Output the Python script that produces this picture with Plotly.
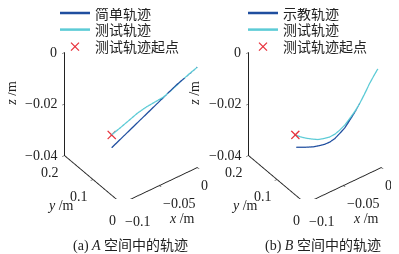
import math
import plotly.graph_objects as go

# ---------------- data ----------------
# Panel (a): A space
a_simple_x = [-0.068, -0.051, -0.034, -0.017, 0.0]
a_simple_y = [0.120, 0.090, 0.060, 0.030, 0.0]
a_simple_z = [-0.0340, -0.0255, -0.0170, -0.0085, -0.0010]

a_test_x = [-0.068, -0.0612, -0.0544, -0.0476, -0.0408, -0.0340, -0.0272, -0.0204, -0.0136, -0.0068, 0.0]
a_test_y = [0.120, 0.108, 0.096, 0.084, 0.072, 0.060, 0.048, 0.036, 0.024, 0.012, 0.0]
a_test_z = [-0.0290, -0.0261, -0.0231, -0.0201, -0.0176, -0.0155, -0.0134, -0.0104, -0.0071, -0.0039, -0.0010]

# Panel (b): B space
b_teach_x = [-0.0675, -0.0600, -0.0540, -0.0491, -0.0450, -0.0412, -0.0370, -0.0333, -0.0290, -0.0253, -0.0212, -0.0174, -0.0134, -0.0095, -0.0060, -0.0029]
b_teach_y = [0.1192, 0.1059, 0.0953, 0.0866, 0.0794, 0.0727, 0.0653, 0.0587, 0.0512, 0.0447, 0.0374, 0.0307, 0.0237, 0.0168, 0.0106, 0.0052]
b_teach_z = [-0.0338, -0.0336, -0.0333, -0.0327, -0.0321, -0.0312, -0.0297, -0.0277, -0.0253, -0.0224, -0.0191, -0.0157, -0.0118, -0.0077, -0.0045, -0.0018]

b_test_x = [-0.0683, -0.0640, -0.0596, -0.0550, -0.0504, -0.0458, -0.0412, -0.0370, -0.0333, -0.0290, -0.0253, -0.0212, -0.0174, -0.0134, -0.0095, -0.0060, -0.0029]
b_test_y = [0.1206, 0.1130, 0.1052, 0.0971, 0.0890, 0.0809, 0.0727, 0.0653, 0.0587, 0.0512, 0.0447, 0.0374, 0.0307, 0.0237, 0.0168, 0.0106, 0.0052]
b_test_z = [-0.0290, -0.0297, -0.0301, -0.0303, -0.0304, -0.0299, -0.0292, -0.0280, -0.0264, -0.0242, -0.0217, -0.0188, -0.0157, -0.0118, -0.0077, -0.0045, -0.0018]

x_ticks = [-0.1, -0.05, 0]
x_tick_text = ["\u22120.1", "\u22120.05", "0"]
y_ticks = [0, 0.1, 0.2]
y_tick_text = ["0", "0.1", "0.2"]
z_ticks = [-0.04, -0.02, 0]
z_tick_text = ["\u22120.04", "\u22120.02", "0"]

names_a = ["简单轨迹", "测试轨迹", "测试轨迹起点"]
names_b = ["示教轨迹", "测试轨迹", "测试轨迹起点"]
captions = ["(a) <i>A</i> 空间中的轨迹", "(b) <i>B</i> 空间中的轨迹"]

BLUE = "#1f4e9f"
CYAN = "#5ccbd6"
RED = "#e8323c"
FONT = "Liberation Serif, Noto Sans CJK SC"

# camera (orthographic, MATLAB-like view)
AZ = math.radians(53.1)
EL = math.radians(39.2)
R = 1.89
EYE = dict(x=-math.cos(EL) * math.cos(AZ) * R, y=-math.cos(EL) * math.sin(AZ) * R, z=math.sin(EL) * R)

fig = go.Figure()

panels = [
    ("scene", ["legend", "legend2", "legend3"], names_a,
     (a_simple_x, a_simple_y, a_simple_z), (a_test_x, a_test_y, a_test_z)),
    ("scene2", ["legend4", "legend5", "legend6"], names_b,
     (b_teach_x, b_teach_y, b_teach_z), (b_test_x, b_test_y, b_test_z)),
]

for scene, legs, names, ref, test in panels:
    fig.add_trace(go.Scatter3d(x=ref[0], y=ref[1], z=ref[2], mode="lines",
                               line=dict(color=BLUE, width=2.5), name=names[0],
                               scene=scene, legend=legs[0]))
    fig.add_trace(go.Scatter3d(x=test[0], y=test[1], z=test[2], mode="lines",
                               line=dict(color=CYAN, width=2.5), name=names[1],
                               scene=scene, legend=legs[1]))
    fig.add_trace(go.Scatter3d(x=[test[0][0]], y=[test[1][0]], z=[test[2][0]], mode="text",
                               text=["\u00d7"], textfont=dict(color=RED, size=16, family="DejaVu Sans"),
                               textposition="middle center", showlegend=False, scene=scene))
    # legend entry for the start marker
    fig.add_trace(go.Scatter(x=[None], y=[None], mode="markers", name=names[2],
                             marker=dict(symbol="x-thin-open", size=8, color=RED,
                                         line=dict(color=RED, width=1.3)),
                             legend=legs[2]))


def axis(rng, tv):
    return dict(range=rng, tickvals=tv, ticktext=[""] * len(tv), showgrid=False,
                showbackground=False, showline=True, linecolor="#222", linewidth=2,
                ticks="outside", ticklen=3, tickcolor="#222", tickwidth=1, zeroline=False,
                showspikes=False, title=dict(text=""), autorange=False)


def scene_annotations():
    ann = []
    tf = dict(family=FONT, size=14, color="#222")
    for v, t in zip(z_ticks, z_tick_text):
        ann.append(dict(x=-0.1, y=0.2, z=v, text=t, showarrow=False, xanchor="right",
                        yanchor="middle", xshift=-5, font=tf))
    for v, t in zip(y_ticks, y_tick_text):
        ann.append(dict(x=-0.1, y=v, z=-0.04, text=t, showarrow=False, xanchor="right",
                        yanchor="top", xshift=-3, yshift=-8, font=tf))
    for v, t in zip(x_ticks, x_tick_text):
        ann.append(dict(x=v, y=0, z=-0.04, text=t, showarrow=False, xanchor="left",
                        yanchor="top", xshift=2, yshift=-9, font=tf))
    ann.append(dict(x=-0.1, y=0.2, z=-0.02, text="<i>z</i> /m", showarrow=False,
                    textangle=-90, xshift=-53, yshift=10, font=tf))
    ann.append(dict(x=-0.1, y=0.1, z=-0.04, text="<i>y</i> /m", showarrow=False,
                    xshift=-32, yshift=-26, font=tf))
    ann.append(dict(x=-0.05, y=0, z=-0.04, text="<i>x</i> /m", showarrow=False,
                    xshift=23, yshift=-33, font=tf))
    return ann


def scene_layout(dom_x):
    return dict(
        domain=dict(x=dom_x, y=[0.25, 0.95]),
        xaxis=axis([-0.1, 0], x_ticks),
        yaxis=axis([0, 0.2], y_ticks),
        zaxis=axis([-0.04, 0], z_ticks),
        aspectmode="manual", aspectratio=dict(x=1.067, y=1.067, z=1.494),
        camera=dict(eye=EYE, up=dict(x=0, y=0, z=1), center=dict(x=0, y=0, z=0),
                    projection=dict(type="orthographic")),
        bgcolor="rgba(0,0,0,0)",
        annotations=scene_annotations(),
    )


def legend_at(x, ypix):
    return dict(x=x, y=1 - ypix / 254, xanchor="left", yanchor="middle",
                bgcolor="rgba(0,0,0,0)", font=dict(size=14, family=FONT, color="#222"),
                itemwidth=30)


fig.update_layout(
    width=399, height=254, margin=dict(l=0, r=0, t=0, b=0, autoexpand=False),
    paper_bgcolor="white", plot_bgcolor="white",
    font=dict(family=FONT, size=14, color="#222"),
    xaxis=dict(visible=False), yaxis=dict(visible=False),
    scene=scene_layout([0.097, 0.517]),
    scene2=scene_layout([0.558, 0.978]),
    legend=legend_at(47 / 399, 5.5),
    legend2=legend_at(47 / 399, 22),
    legend3=legend_at(47 / 399, 39),
    legend4=legend_at(235 / 399, 5.5),
    legend5=legend_at(235 / 399, 22),
    legend6=legend_at(235 / 399, 39),
)

for i, cap in enumerate(captions):
    fig.add_annotation(text=cap, x=[122 / 399, 315 / 399][i], y=(254 - 238) / 254,
                       xref="paper", yref="paper", xanchor="center", yanchor="middle",
                       showarrow=False, font=dict(size=14, family=FONT, color="#222"))

fig.write_html("out.html")
